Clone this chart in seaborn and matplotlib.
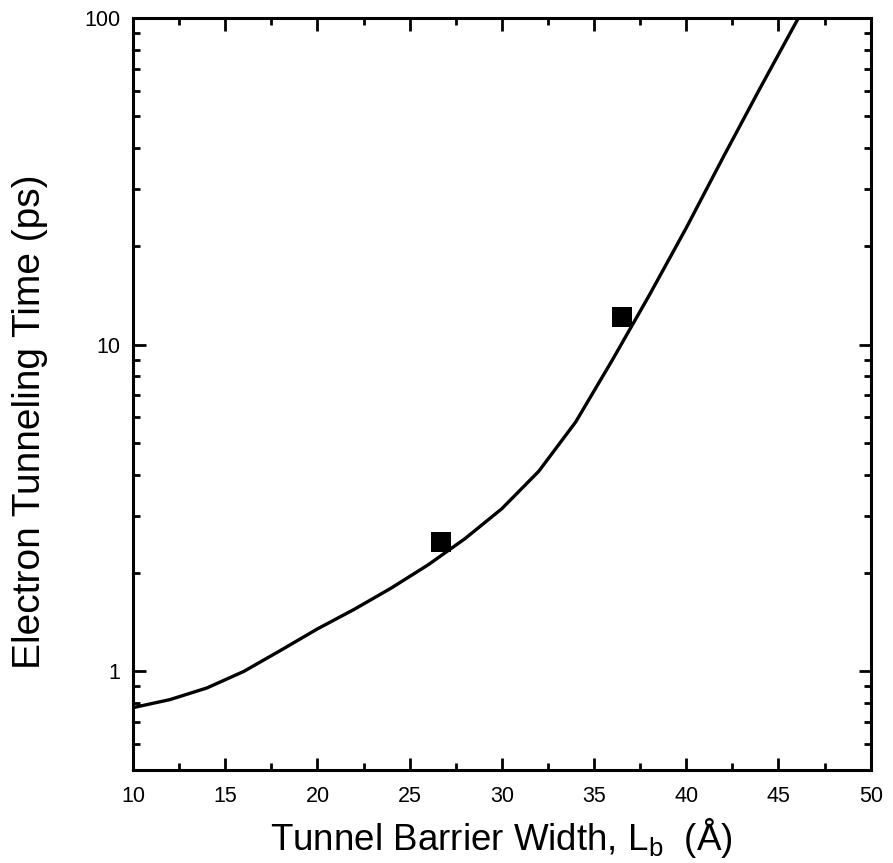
import matplotlib
matplotlib.use("Agg")
import matplotlib.pyplot as plt
import seaborn as sns
import numpy as np
import pandas as pd
from matplotlib.ticker import LogLocator, FixedLocator, NullFormatter, MultipleLocator

# Theory curve
curve_width = [10, 12, 14, 16, 18, 20, 22, 24, 26, 28, 30, 32, 34, 36, 38, 40, 42, 44, 46.4]
curve_time = [0.775, 0.82, 0.89, 1.0, 1.16, 1.35, 1.55, 1.8, 2.12, 2.55, 3.15, 4.1, 5.8, 9.0, 14.2, 22.8, 37.5, 61.0, 108.0]

# Measured points
meas_width = [26.7, 36.5]
meas_time = [2.49, 12.2]

x_ticks = [10, 15, 20, 25, 30, 35, 40, 45, 50]
y_ticks = [1, 10, 100]
y_tick_labels = ["1", "10", "100"]

sns.set_style("ticks")
plt.rcParams['font.family'] = ['Liberation Sans', 'DejaVu Sans']
plt.rcParams['text.color'] = 'black'
plt.rcParams['axes.labelcolor'] = 'black'

fig = plt.figure(figsize=(8.93, 8.63), dpi=100)
ax = fig.add_axes([0.149, 0.108, 0.826, 0.871])

df_curve = pd.DataFrame({"w": curve_width, "t": curve_time})
df_meas = pd.DataFrame({"w": meas_width, "t": meas_time})

sns.lineplot(data=df_curve, x="w", y="t", ax=ax, color="black", linewidth=2.4, sort=True)
sns.scatterplot(data=df_meas, x="w", y="t", ax=ax, color="black", marker="s", s=190,
                edgecolor="black", linewidth=0, zorder=5)

ax.set_yscale("log")
ax.set_xlim(10, 50)
ax.set_ylim(0.5, 100)

ax.xaxis.set_major_locator(FixedLocator(x_ticks))
ax.xaxis.set_minor_locator(MultipleLocator(2.5))
ax.set_xticklabels([str(v) for v in x_ticks])
ax.yaxis.set_major_locator(FixedLocator(y_ticks))
ax.set_yticklabels(y_tick_labels)
ax.yaxis.set_minor_locator(LogLocator(base=10, subs=np.arange(2, 10) * 1.0, numticks=20))
ax.yaxis.set_minor_formatter(NullFormatter())

ax.tick_params(which="both", direction="in", top=True, right=True, width=2.0,
               colors="black", labelcolor="black")
ax.tick_params(which="major", length=9, labelsize=15.5)
ax.tick_params(axis="x", which="major", pad=12)
ax.tick_params(axis="y", which="major", pad=9)
ax.tick_params(which="minor", length=5)

for sp in ax.spines.values():
    sp.set_linewidth(2.2)
    sp.set_color("black")

ax.set_xlabel(r"Tunnel Barrier Width, L$_\mathregular{b}$  (Å)", fontsize=26.5, color="black")
ax.xaxis.set_label_coords(0.5, -0.061)
ax.set_ylabel("Electron Tunneling Time (ps)", fontsize=28, color="black")
ax.yaxis.set_label_coords(-0.115, 0.463)

fig.savefig("out.png", dpi=100, facecolor="white")
